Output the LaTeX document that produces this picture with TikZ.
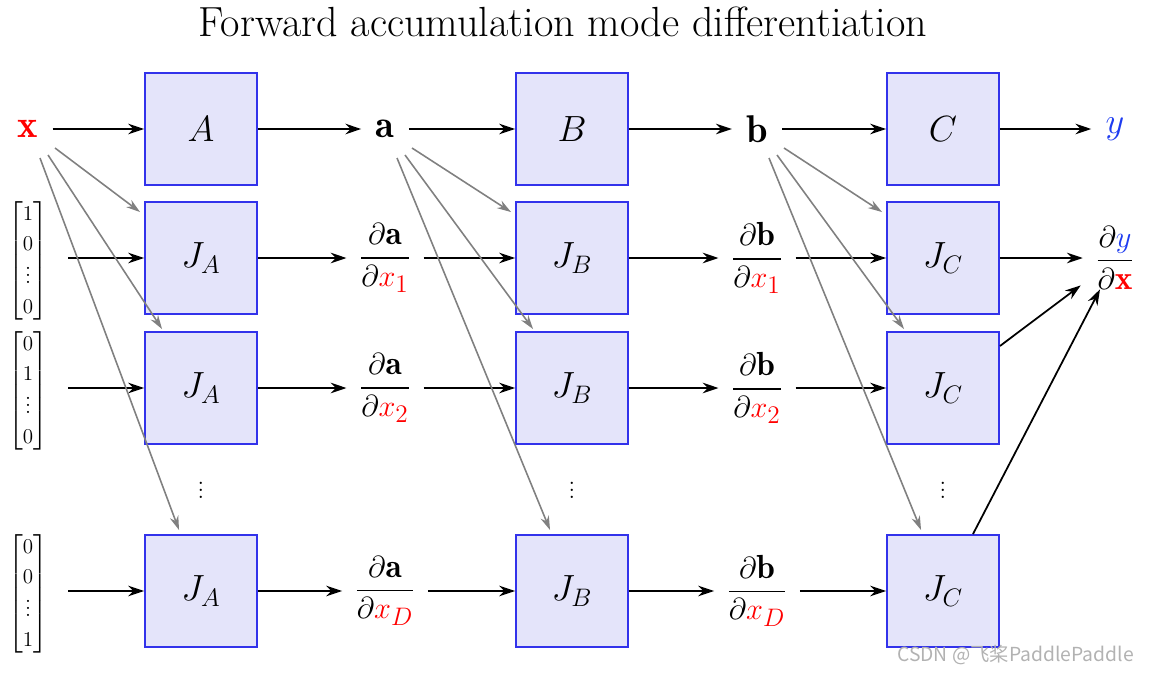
\documentclass[tikz,border=0pt]{standalone}
\usepackage{amsmath,amssymb,bm}
\usepackage{fontspec}
\newfontfamily\cjk{Noto Sans CJK SC}
\usetikzlibrary{calc,arrows.meta}
\definecolor{boxfill}{RGB}{228,228,250}
\definecolor{boxline}{RGB}{50,50,235}
\definecolor{ycol}{RGB}{30,60,240}
\begin{document}
\begin{tikzpicture}[x=0.02cm,y=-0.02cm,
  box/.style={draw=boxline,fill=boxfill,line width=1.1pt,minimum size=2.24cm,inner sep=0pt,font=\fontsize{21}{25}\selectfont},
  lbl/.style={font=\fontsize{22}{26}\selectfont,inner sep=8pt},
  frc/.style={font=\fontsize{19}{22}\selectfont,inner xsep=7pt,inner ysep=1pt},
  vec/.style={font=\fontsize{12.5}{15}\selectfont,inner sep=0pt},
  arr/.style={-{Stealth[length=9pt,width=6pt]},line width=1pt},
  garr/.style={-{Stealth[length=8pt,width=5pt]},line width=0.9pt,gray}]
\useasboundingbox (0,0) rectangle (1154,673);
\node[font=\fontsize{24}{28}\selectfont] (title) at (563,22) {Forward accumulation mode differentiation};
% top row
\node[lbl] (x) at (28,129) {$\color{red}\mathbf{x}$};
\node[box] (A) at (201,129) {$A$};
\node[lbl] (a) at (385,129) {$\mathbf{a}$};
\node[box] (B) at (572,129) {$B$};
\node[lbl] (b) at (757,129) {$\mathbf{b}$};
\node[box] (C) at (943,129) {$C$};
\node[lbl] (y) at (1115,129) {$\color{ycol}y$};
% vectors
\def\vecc#1#2#3{$\renewcommand{\arraystretch}{1.15}\left[\begin{array}{@{}c@{}}#1\\#2\\[-2pt]\vdots\\#3\end{array}\right]$}
\node[vec] (v1) at (28,261) {\vecc{1}{0}{0}};
\node[vec] (v2) at (28,391) {\vecc{0}{1}{0}};
\node[vec] (v3) at (28,594) {\vecc{0}{0}{1}};
% rows
\foreach \r/\yy/\s in {1/258/1,2/388/2,3/591/D}{
  \node[box] (ja\r) at (201,\yy) {$J_A$};
  \node[frc] (fa\r) at (385,\yy) {$\dfrac{\partial\mathbf{a}}{\partial{\color{red}x_{\s}}}$};
  \node[box] (jb\r) at (572,\yy) {$J_B$};
  \node[frc] (fb\r) at (757,\yy) {$\dfrac{\partial\mathbf{b}}{\partial{\color{red}x_{\s}}}$};
  \node[box] (jc\r) at (943,\yy) {$J_C$};
  \draw[arr] (v\r.east)++(20,-3) coordinate (s\r) -- (ja\r.west);
  \draw[arr] (ja\r) -- (fa\r);
  \draw[arr] (fa\r) -- (jb\r);
  \draw[arr] (jb\r) -- (fb\r);
  \draw[arr] (fb\r) -- (jc\r);
}
\node[frc] (dy) at (1115,258) {$\dfrac{\partial{\color{ycol}y}}{\partial{\color{red}\mathbf{x}}}$};
\foreach \c/\xx in {d1/201,d2/572,d3/943}{\node[font=\fontsize{16}{18}\selectfont,inner sep=0pt] (\c) at (\xx,485) {$\vdots$};}
% top arrows
\draw[arr] (x) -- (A);
\draw[arr] (A) -- (a);
\draw[arr] (a) -- (B);
\draw[arr] (B) -- (b);
\draw[arr] (b) -- (C);
\draw[arr] (C) -- (y);
\draw[arr] (jc1) -- (dy);
\draw[arr] (jc2.east)++(0,-42) -- ($(dy.south west)+(-2,-6)$);
\draw[arr] ($(jc3.north)+(30,0)$) -- ($(dy.south)+(-15,-2)$);
% gray arrows
\foreach \src/\q in {x/ja,a/jb,b/jc}{
  \draw[garr] ($(\src)+(27,19)$) -- ($(\q1.north west)+(-4,11)$);
  \draw[garr] ($(\src)+(20,26)$) -- ($(\q2.north west)+(18,-2)$);
  \draw[garr] ($(\src)+(12,29)$) -- ($(\q3.north west)+(35,-4)$);
}
\node[text=gray!60,font=\cjk\fontsize{11}{13}\selectfont,anchor=east] (wm) at (1140,655) {CSDN @飞桨PaddlePaddle};
\end{tikzpicture}
\end{document}
